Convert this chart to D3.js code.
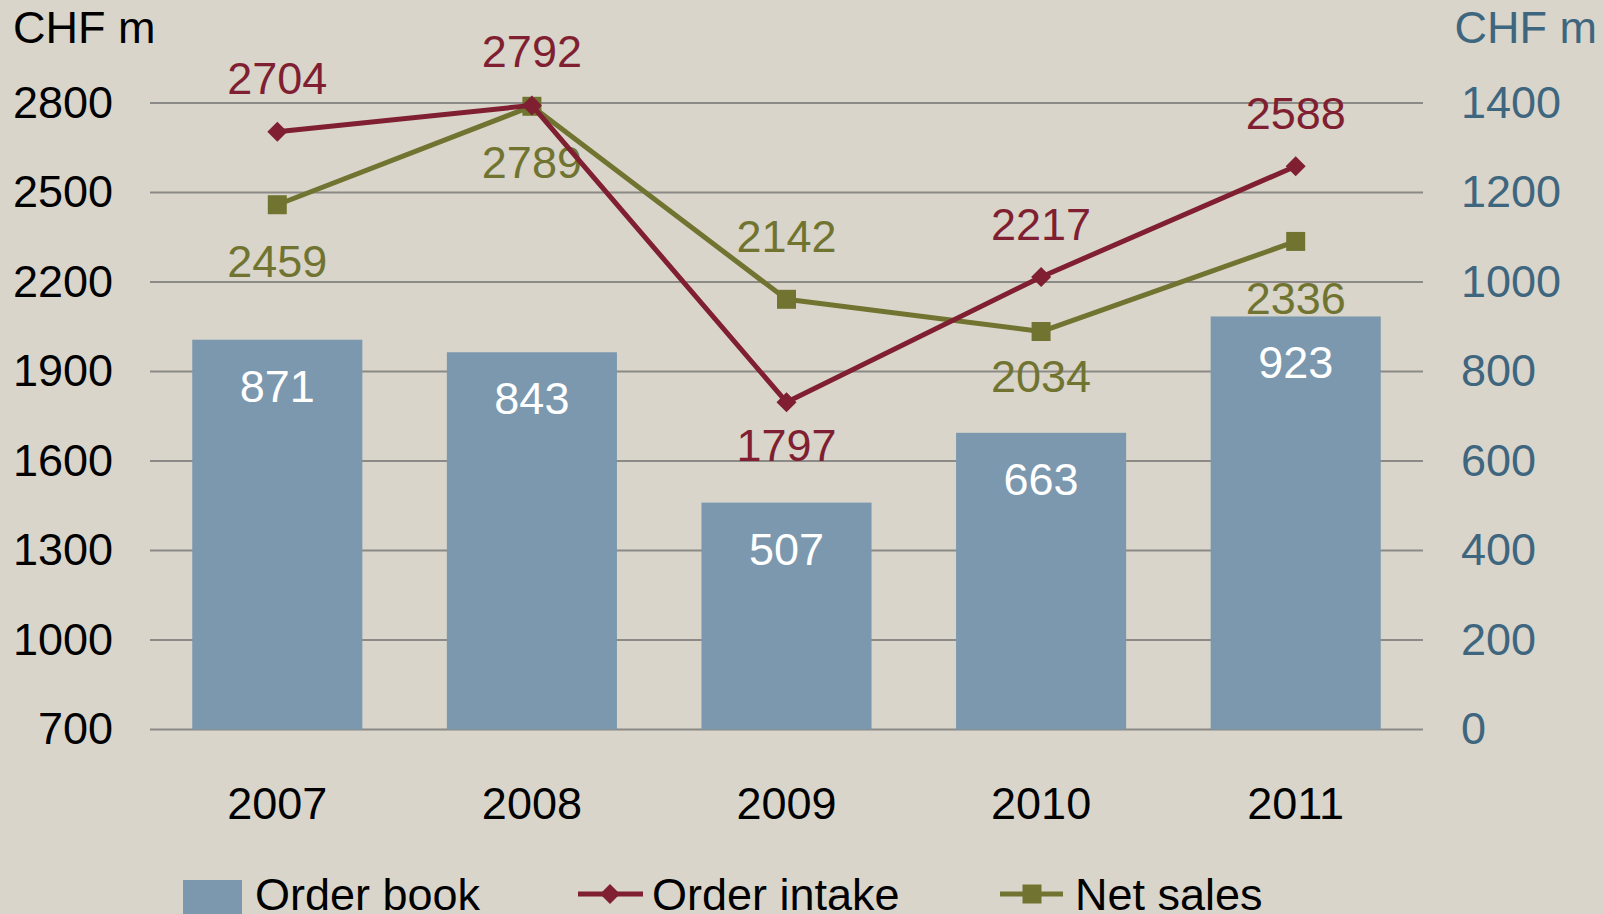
<title>Order book, intake and sales</title>
<style>
  body { margin:0; background:#d9d5ca; }
  text { font-family:"Liberation Sans", Arial, sans-serif; }
</style>
<body></body>
<script src="https://d3js.org/d3.v7.min.js"></script>
<script>
// data
years = ['2007', '2008', '2009', '2010', '2011']
orderBook = [871, 843, 507, 663, 923]
orderIntake = [2704, 2792, 1797, 2217, 2588]
netSales = [2459, 2789, 2142, 2034, 2336]
leftTicks = [700, 1000, 1300, 1600, 1900, 2200, 2500, 2800]
rightTicks = [0, 200, 400, 600, 800, 1000, 1200, 1400]

// label placement (px from the point to the label centre), layout only
intakeOff = [-54, -54, 43, -53, -53]
salesOff = [56, 56, -63, 44, 57]

W = 1604, H = 914
fs = 45
bg = '#d9d5ca', barCol = '#7b98af', red = '#7f1f31', olive = '#707430', blueText = '#3f667f'

svg = d3.select('body').append('svg')
    .attr('width', W)
    .attr('height', H)
svg.append('rect').attr('width', W).attr('height', H).attr('fill', bg)

x = d3.scaleBand().domain(years).range([150, 1423]).paddingInner(0.332).paddingOuter(0.166)
yl = d3.scaleLinear().domain([700, 2800]).range([729.5, 103])
yr = d3.scaleLinear().domain([0, 1400]).range([729.5, 103])

// grid
svg.append('g').selectAll('line').data(leftTicks).join('line')
    .attr('x1', 150).attr('x2', 1423)
    .attr('y1', d => yl(d)).attr('y2', d => yl(d))
    .attr('stroke', '#8c8a86').attr('stroke-width', 2)

// axes (labels only, no domain line)
leftAxis = d3.axisLeft(yl).tickValues(leftTicks).tickSize(0).tickPadding(0).tickFormat(d3.format('d'))
gl = svg.append('g').attr('transform', 'translate(113,0)').call(leftAxis)
gl.select('.domain').remove()
gl.selectAll('text').attr('font-size', fs).attr('font-family', null).attr('fill', '#000')

rightAxis = d3.axisRight(yr).tickValues(rightTicks).tickSize(0).tickPadding(0).tickFormat(d3.format('d'))
gr = svg.append('g').attr('transform', 'translate(1461,0)').call(rightAxis)
gr.select('.domain').remove()
gr.selectAll('text').attr('font-size', fs).attr('font-family', null).attr('fill', blueText)

xAxis = d3.axisBottom(x).tickSize(0).tickPadding(0)
gx = svg.append('g').attr('transform', 'translate(0,787)').call(xAxis)
gx.select('.domain').remove()
gx.selectAll('text').attr('font-size', fs).attr('font-family', null).attr('fill', '#000').attr('dy', '0.71em')

svg.append('text').attr('x', 13).attr('y', 43).attr('font-size', fs).text('CHF m')
svg.append('text').attr('x', 1597).attr('y', 43).attr('font-size', fs)
    .attr('text-anchor', 'end').attr('fill', blueText).text('CHF m')

// bars
svg.append('g').selectAll('rect').data(orderBook).join('rect')
    .attr('x', (d, i) => x(years[i]))
    .attr('width', x.bandwidth())
    .attr('y', d => yr(d))
    .attr('height', d => yr(0) - yr(d))
    .attr('fill', barCol)
svg.append('g').selectAll('text').data(orderBook).join('text')
    .attr('x', (d, i) => x(years[i]) + x.bandwidth() / 2)
    .attr('y', d => yr(d) + 62)
    .attr('text-anchor', 'middle').attr('font-size', fs).attr('fill', '#fff')
    .text(d => d)

cx = (d, i) => x(years[i]) + x.bandwidth() / 2

function drawLine(vals, col, offs, marker) {
  line = d3.line().x(cx).y(d => yl(d))
  svg.append('path').datum(vals)
      .attr('d', line).attr('fill', 'none')
      .attr('stroke', col).attr('stroke-width', 5).attr('stroke-linejoin', 'round')
  svg.append('g').selectAll('path').data(vals).join('path')
      .attr('transform', (d, i) => `translate(${cx(d, i)},${yl(d)})`)
      .attr('d', marker).attr('fill', col)
  svg.append('g').selectAll('text').data(vals).join('text')
      .attr('x', cx)
      .attr('y', (d, i) => yl(d) + offs[i] + 16)
      .attr('text-anchor', 'middle').attr('font-size', fs).attr('fill', col)
      .text(d => d)
}
diamond = 'M0,-10L10,0L0,10L-10,0Z'
square = 'M-9.5,-9.5H9.5V9.5H-9.5Z'
drawLine(netSales, olive, salesOff, square)
drawLine(orderIntake, red, intakeOff, diamond)

// legend
lg = svg.append('g')
lg.append('rect').attr('x', 183).attr('y', 880).attr('width', 59).attr('height', 40).attr('fill', barCol)
lg.append('text').attr('x', 255).attr('y', 910).attr('font-size', fs).text('Order book')
lg.append('line').attr('x1', 578).attr('x2', 643).attr('y1', 894).attr('y2', 894).attr('stroke', red).attr('stroke-width', 5)
lg.append('path').attr('transform', 'translate(610,894)').attr('d', diamond).attr('fill', red)
lg.append('text').attr('x', 652).attr('y', 910).attr('font-size', fs).text('Order intake')
lg.append('line').attr('x1', 1000).attr('x2', 1063).attr('y1', 894).attr('y2', 894).attr('stroke', olive).attr('stroke-width', 5)
lg.append('path').attr('transform', 'translate(1032,894)').attr('d', square).attr('fill', olive)
lg.append('text').attr('x', 1075).attr('y', 910).attr('font-size', fs).text('Net sales')
</script>
